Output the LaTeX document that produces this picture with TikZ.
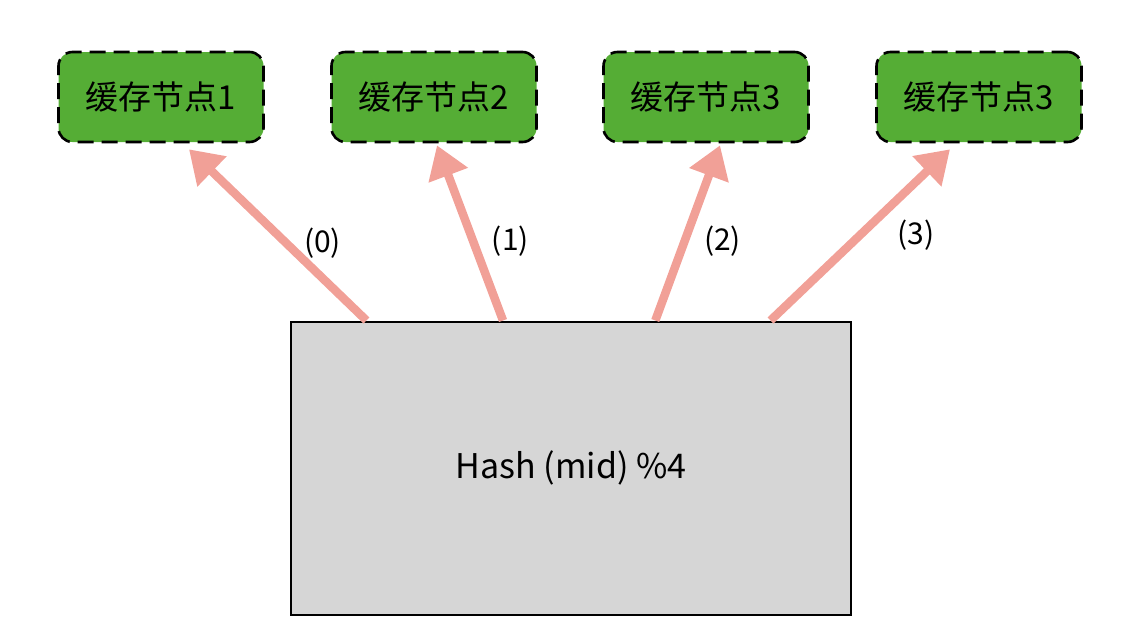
\documentclass[tikz,border=0pt]{standalone}
\usepackage{fontspec}
\setmainfont{Noto Sans CJK SC}
\usetikzlibrary{arrows.meta,calc}
\definecolor{nodegreen}{HTML}{55AD35}
\definecolor{hashgray}{HTML}{D6D6D6}
\definecolor{linkred}{HTML}{F1A097}
\tikzstyle{cache}=[draw,line width=2.6pt,dash pattern=on 16pt off 8pt,rounded corners=14pt,fill=nodegreen,minimum width=205pt,minimum height=90pt,font=\fontsize{33}{38}\selectfont]
\tikzstyle{hashbox}=[draw,line width=2pt,fill=hashgray,minimum width=560pt,minimum height=293pt,font=\fontsize{34}{40}\selectfont]
\tikzstyle{link}=[line width=8.5pt,linkred,-{Triangle[length=32pt,width=40pt]}]
\tikzstyle{every node}=[text=black,font=\fontsize{30}{34}\selectfont]

\begin{document}
\begin{tikzpicture}[x=1pt,y=-1pt]
    \useasboundingbox (0,0) rectangle (1142,640);
    \node[cache] (c1) at (161,97) {缓存节点1};
    \node[cache] (c2) at (434,97) {缓存节点2};
    \node[cache] (c3) at (706,97) {缓存节点3};
    \node[cache] (c4) at (979,97) {缓存节点3};
    \node[hashbox] (hash) at (571,468) {Hash (mid) \%4};
    \coordinate (h0) at ($(hash.north west)!0.136!(hash.north east)$);
    \coordinate (h1) at ($(hash.north west)!0.379!(hash.north east)$);
    \coordinate (h2) at ($(hash.north west)!0.650!(hash.north east)$);
    \coordinate (h3) at ($(hash.north west)!0.855!(hash.north east)$);
    \draw[link] (h0) -- ([xshift=28pt,yshift=-6pt]c1.south) node[pos=.45,right=10pt]{(0)};
    \draw[link] (h1) -- ([xshift=3pt,yshift=-2pt]c2.south) node[pos=.45,right=11pt]{(1)};
    \draw[link] (h2) -- ([xshift=14pt,yshift=-2pt]c3.south) node[pos=.45,right=12pt]{(2)};
    \draw[link] (h3) -- ([xshift=-29pt,yshift=-6pt]c4.south) node[pos=.5,right=30pt]{(3)};
  \end{tikzpicture}
\end{document}
